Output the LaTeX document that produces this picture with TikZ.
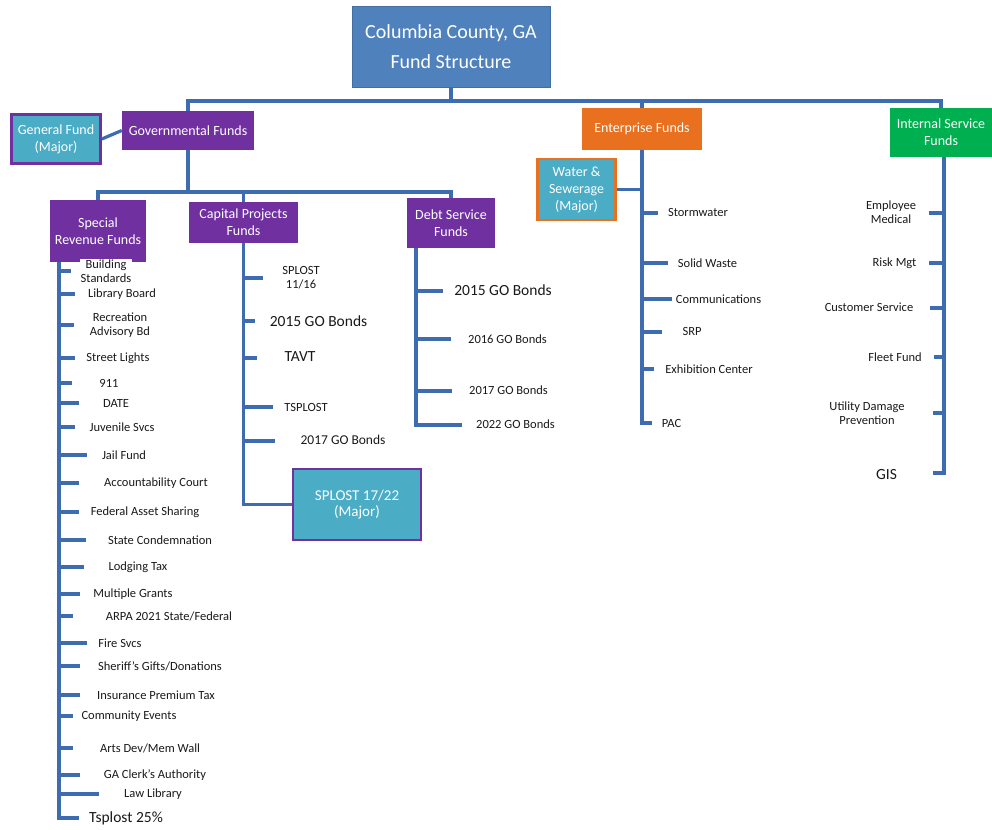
\documentclass[tikz,border=0pt]{standalone}
\usepackage{fontspec}
\setmainfont{Carlito}
\usepackage{tikz}

\definecolor{lineblue}{RGB}{62,108,176}
\definecolor{titleblue}{RGB}{79,129,189}
\definecolor{fundpurple}{RGB}{112,48,160}
\definecolor{fundorange}{RGB}{232,112,30}
\definecolor{fundgreen}{RGB}{0,176,80}
\definecolor{majorcyan}{RGB}{75,172,198}
\definecolor{itemgray}{RGB}{25,25,25}

\tikzset{
	link/.style={draw=lineblue, line width=3.2pt},
	fundbox/.style={rectangle, fill=fundpurple, text=white, align=center, inner sep=0pt, font=\fontsize{14}{17}\selectfont},
	majorbox/.style={fundbox, fill=majorcyan, draw=fundpurple, line width=2.6pt},
	item/.style={text=itemgray, align=center, inner sep=1pt, font=\fontsize{12.5}{14}\selectfont},
	miditem/.style={item, font=\fontsize{13.5}{16}\selectfont},
	bigitem/.style={item, font=\fontsize{15.5}{18}\selectfont},
}

\begin{document}
\begin{tikzpicture}[x=1pt, y=-1pt]

	\useasboundingbox (0,0) rectangle (992,829);

	\node[fundbox, fill=titleblue, draw=titleblue!85!black, line width=0.8pt, minimum width=198pt, minimum height=81pt, font=\fontsize{20}{30}\selectfont] (title) at (451,47) {Columbia County, GA\\Fund Structure};

	\node[fundbox, minimum width=132pt, minimum height=39pt] (gov) at (188,130.5) {Governmental Funds};
	\node[majorbox, minimum width=89pt, minimum height=49pt] (gen) at (56,139) {General Fund\\(Major)};
	\node[fundbox, fill=fundorange, minimum width=120pt, minimum height=42pt] (ent) at (642,129) {Enterprise Funds};
	\node[fundbox, fill=fundgreen, minimum width=102pt, minimum height=49pt] (isf) at (941,132.5) {Internal Service\\Funds};

	\node[fundbox, minimum width=96pt, minimum height=62pt] (srf) at (98,231) {Special\\Revenue Funds};
	\node[fundbox, minimum width=109pt, minimum height=41pt] (cpf) at (243.5,222.5) {Capital Projects\\Funds};
	\node[fundbox, minimum width=88pt, minimum height=50pt] (dsf) at (451,223) {Debt Service\\Funds};
	\node[majorbox, draw=fundorange, minimum width=78pt, minimum height=61pt] (wsf) at (576.5,189.5) {Water \&\\Sewerage\\(Major)};
	\node[majorbox, font=\fontsize{15}{16}\selectfont, minimum width=128pt, minimum height=71pt] (sp1722) at (357,504.5) {SPLOST 17/22\\(Major)};

	\coordinate (hub) at (451,101);
	\coordinate (govbar) at (188,192);
	\draw[link] (title.south) -- (hub);
	\draw[link] (gov.north) |- (hub) -| (isf.north);
	\draw[link] (hub) -| (ent.north);
	\draw[link] (gen.east) -- (gov.west);
	\draw[link] (gov.south) -- (govbar);
	\draw[link] (srf.north) |- (govbar) -| (dsf.north);
	\draw[link] (govbar) -| (cpf.north);

	% special revenue funds
	\coordinate (srtop) at (59,262);
	\coordinate (sr1) at (71,271);   \node[item, fill=white] (srl1) at (106,271) {Building\\Standards};
	\coordinate (sr2) at (75,294);   \node[item] (srl2) at (122,294) {Library Board};
	\coordinate (sr3) at (74,325);   \node[item] (srl3) at (120,325) {Recreation\\Advisory Bd};
	\coordinate (sr4) at (75,358);   \node[item] (srl4) at (118,358) {Street Lights};
	\coordinate (sr5) at (72,383);   \node[item] (srl5) at (109,383) {911};
	\coordinate (sr6) at (79,403);   \node[item] (srl6) at (116,403) {DATE};
	\coordinate (sr7) at (75,427);   \node[item] (srl7) at (122,427) {Juvenile Svcs};
	\coordinate (sr8) at (87,455);   \node[item] (srl8) at (124,455) {Jail Fund};
	\coordinate (sr9) at (79,483);   \node[item] (srl9) at (156,483) {Accountability Court};
	\coordinate (sr10) at (79,512);  \node[item] (srl10) at (145,512) {Federal Asset Sharing};
	\coordinate (sr11) at (86,540);  \node[item] (srl11) at (160,540) {State Condemnation};
	\coordinate (sr12) at (84,567);  \node[item] (srl12) at (138,567) {Lodging Tax};
	\coordinate (sr13) at (80,594);  \node[item] (srl13) at (133,594) {Multiple Grants};
	\coordinate (sr14) at (73,616);  \node[item] (srl14) at (169,616) {ARPA 2021 State/Federal};
	\coordinate (sr15) at (87,643);  \node[item] (srl15) at (120,643) {Fire Svcs};
	\coordinate (sr16) at (80,666);  \node[item] (srl16) at (160,666) {Sheriff's Gifts/Donations};
	\coordinate (sr17) at (80,695);  \node[item] (srl17) at (156,695) {Insurance Premium Tax};
	\coordinate (sr18) at (73,716);  \node[item] (srl18) at (129,716) {Community Events};
	\coordinate (sr19) at (73,748);  \node[item] (srl19) at (150,748) {Arts Dev/Mem Wall};
	\coordinate (sr20) at (80,775);  \node[item] (srl20) at (155,775) {GA Clerk's Authority};
	\coordinate (sr21) at (99,794);  \node[item] (srl21) at (153,794) {Law Library};
	\coordinate (sr22) at (79,818);  \node[bigitem] (srl22) at (126,818) {Tsplost 25\%};

	\draw[link] (srtop) |- (sr22);
	\draw[link] (srtop |- sr1) -- (sr1);
	\draw[link] (srtop |- sr2) -- (sr2);
	\draw[link] (srtop |- sr3) -- (sr3);
	\draw[link] (srtop |- sr4) -- (sr4);
	\draw[link] (srtop |- sr5) -- (sr5);
	\draw[link] (srtop |- sr6) -- (sr6);
	\draw[link] (srtop |- sr7) -- (sr7);
	\draw[link] (srtop |- sr8) -- (sr8);
	\draw[link] (srtop |- sr9) -- (sr9);
	\draw[link] (srtop |- sr10) -- (sr10);
	\draw[link] (srtop |- sr11) -- (sr11);
	\draw[link] (srtop |- sr12) -- (sr12);
	\draw[link] (srtop |- sr13) -- (sr13);
	\draw[link] (srtop |- sr14) -- (sr14);
	\draw[link] (srtop |- sr15) -- (sr15);
	\draw[link] (srtop |- sr16) -- (sr16);
	\draw[link] (srtop |- sr17) -- (sr17);
	\draw[link] (srtop |- sr18) -- (sr18);
	\draw[link] (srtop |- sr19) -- (sr19);
	\draw[link] (srtop |- sr20) -- (sr20);
	\draw[link] (srtop |- sr21) -- (sr21);

	% capital projects funds
	\coordinate (cp1) at (263,278);  \node[item] (cpl1) at (301,278) {SPLOST\\11/16};
	\coordinate (cp2) at (255,321);  \node[bigitem] (cpl2) at (318.5,321) {2015 GO Bonds};
	\coordinate (cp3) at (257,358);  \node[bigitem] (cpl3) at (300,357) {TAVT};
	\coordinate (cp4) at (273,407);  \node[item] (cpl4) at (306,407) {TSPLOST};
	\coordinate (cp5) at (275,441);  \node[miditem] (cpl5) at (343,440) {2017 GO Bonds};

	\draw[link] (cpf.south) |- (sp1722.west);
	\draw[link] (cpf.south |- cp1) -- (cp1);
	\draw[link] (cpf.south |- cp2) -- (cp2);
	\draw[link] (cpf.south |- cp3) -- (cp3);
	\draw[link] (cpf.south |- cp4) -- (cp4);
	\draw[link] (cpf.south |- cp5) -- (cp5);

	% debt service funds
	\coordinate (dstop) at (416,248);
	\coordinate (ds1) at (443,291);  \node[bigitem] (dsl1) at (503,290) {2015 GO Bonds};
	\coordinate (ds2) at (451,339);  \node[item] (dsl2) at (507.5,339) {2016 GO Bonds};
	\coordinate (ds3) at (452,391);  \node[item] (dsl3) at (508.5,390) {2017 GO Bonds};
	\coordinate (ds4) at (462,425);  \node[item] (dsl4) at (515.5,424) {2022 GO Bonds};

	\draw[link] (dstop) |- (ds4);
	\draw[link] (dstop |- ds1) -- (ds1);
	\draw[link] (dstop |- ds2) -- (ds2);
	\draw[link] (dstop |- ds3) -- (ds3);

	% enterprise funds
	\coordinate (en1) at (658,213);  \node[item] (enl1) at (698,212) {Stormwater};
	\coordinate (en2) at (668,263);  \node[item] (enl2) at (707.5,263) {Solid Waste};
	\coordinate (en3) at (672,299);  \node[item] (enl3) at (718.5,299) {Communications};
	\coordinate (en4) at (662,332);  \node[item] (enl4) at (692,331) {SRP};
	\coordinate (en5) at (654,369);  \node[item] (enl5) at (709,369) {Exhibition Center};
	\coordinate (en6) at (652,423);  \node[item] (enl6) at (671.5,423) {PAC};

	\draw[link] (ent.south) |- (en6);
	\draw[link] (wsf.east) -- (ent.south |- wsf.east);
	\draw[link] (ent.south |- en1) -- (en1);
	\draw[link] (ent.south |- en2) -- (en2);
	\draw[link] (ent.south |- en3) -- (en3);
	\draw[link] (ent.south |- en4) -- (en4);
	\draw[link] (ent.south |- en5) -- (en5);

	% internal service funds
	\coordinate (istop) at (944,157);
	\coordinate (is1) at (929,213);  \node[item] (isl1) at (891,212) {Employee\\Medical};
	\coordinate (is2) at (929,263);  \node[item] (isl2) at (894.5,263) {Risk Mgt};
	\coordinate (is3) at (930,308);  \node[item] (isl3) at (869,307) {Customer Service};
	\coordinate (is4) at (934,357);  \node[item] (isl4) at (895,357) {Fleet Fund};
	\coordinate (is5) at (933,413);  \node[item] (isl5) at (867,413) {Utility Damage\\Prevention};
	\coordinate (is6) at (933,473);  \node[bigitem] (isl6) at (886.5,475) {GIS};

	\draw[link] (istop) |- (is6);
	\draw[link] (istop |- is1) -- (is1);
	\draw[link] (istop |- is2) -- (is2);
	\draw[link] (istop |- is3) -- (is3);
	\draw[link] (istop |- is4) -- (is4);
	\draw[link] (istop |- is5) -- (is5);

\end{tikzpicture}
\end{document}
